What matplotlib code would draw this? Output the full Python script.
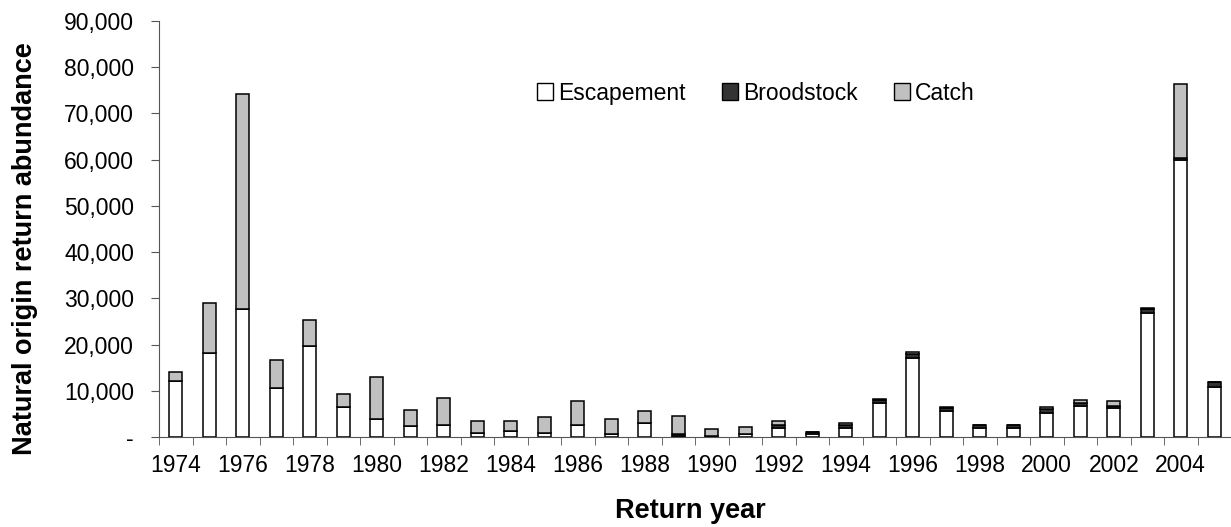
import numpy as np
import matplotlib.pyplot as plt
from matplotlib.patches import Patch
from matplotlib.ticker import FuncFormatter

plt.rcParams['font.family'] = ['Liberation Sans', 'DejaVu Sans']

years = list(range(1974, 2006))
escapement = [12200, 18200, 27700, 10600, 19700, 6500, 3800, 2400, 2600, 900,
              1400, 900, 2600, 700, 3000, 300, 300, 600, 1900, 700,
              1900, 7300, 17000, 5600, 1900, 1900, 5200, 6700, 6300, 26900,
              60000, 10900]
broodstock = [0, 0, 0, 0, 0, 0, 0, 0, 0, 0,
              0, 0, 0, 0, 0, 400, 0, 0, 700, 300,
              800, 700, 900, 700, 600, 600, 800, 700, 500, 800,
              400, 900]
catch = [1900, 10800, 46500, 6000, 5600, 2900, 9200, 3400, 5800, 2600,
         2000, 3500, 5200, 3300, 2700, 3800, 1400, 1600, 900, 0,
         400, 200, 400, 200, 100, 100, 400, 700, 1000, 200,
         16000, 0]

esc = np.array(escapement)
bro = np.array(broodstock)
cat = np.array(catch)
x = np.arange(len(years))

W, H = 1231, 527
fig = plt.figure(figsize=(W / 100, H / 100), dpi=100)
ax = fig.add_axes([159 / W, 1 - 437 / H, 1 - 159 / W, (437 - 21) / H])

w = 0.4
lw = 1.1
ax.bar(x, esc, w, color='white', edgecolor='black', linewidth=lw)
ax.bar(x, bro, w, bottom=esc, color='#333333', edgecolor='black', linewidth=lw)
ax.bar(x, cat, w, bottom=esc + bro, color='#c0c0c0', edgecolor='black', linewidth=lw)

ax.set_xlim(-0.5, len(years) - 0.5)
ax.set_ylim(0, 90000)
ax.set_yticks(np.arange(0, 90001, 10000))
ax.yaxis.set_major_formatter(FuncFormatter(lambda v, p: '-' if v == 0 else f'{int(v):,}'))

ax.set_xticks(x[::2])
ax.set_xticklabels([str(y) for y in years[::2]])
ax.set_xticks(np.arange(-0.5, len(years), 1), minor=True)
ax.tick_params(axis='x', which='major', length=0, pad=12, labelsize=16.5)
ax.tick_params(axis='x', which='minor', length=6, direction='out', color='#555555')
ax.tick_params(axis='y', length=6, direction='out', color='#555555', labelsize=16.5, pad=12)

for s in ['top', 'right']:
    ax.spines[s].set_visible(False)
ax.spines['left'].set_color('#555555')
ax.spines['bottom'].set_color('#555555')

# axis titles placed in pixels
fig.text(690 / W, 1 - 511 / H, 'Return year', fontsize=19.5, fontweight='bold',
         ha='center', va='center')
fig.text(25 / W, 1 - 249 / H, 'Natural origin return abundance', fontsize=19.5,
         fontweight='bold', rotation=90, ha='center', va='center')

handles = [Patch(facecolor='white', edgecolor='black', label='Escapement'),
           Patch(facecolor='#333333', edgecolor='black', label='Broodstock'),
           Patch(facecolor='#c0c0c0', edgecolor='black', label='Catch')]
fig.legend(handles=handles, loc='center', bbox_to_anchor=(0.614, 0.8235),
           ncol=3, frameon=False, fontsize=16.5, handlelength=0.7, handleheight=0.7,
           handletextpad=0.2, columnspacing=1.6)

fig.savefig('out.png', dpi=100)
